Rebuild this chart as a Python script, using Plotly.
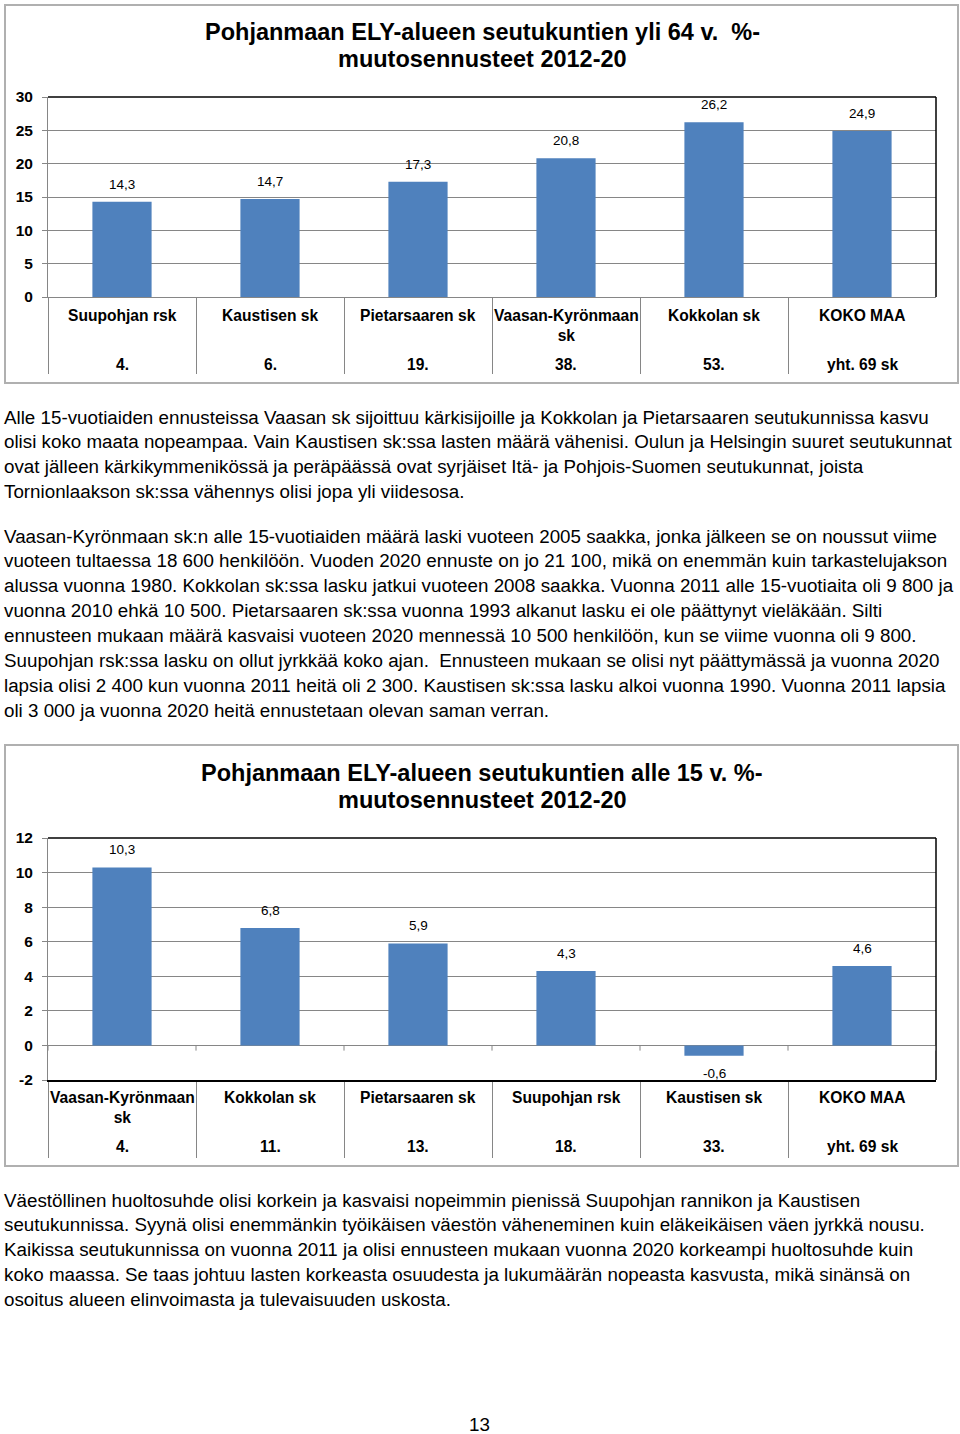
import plotly.graph_objects as go

W, H = 960, 1434


def px(x):
    return x / W


def py(y):
    return 1 - y / H


# ---------------- data ----------------
title1 = ["Pohjanmaan ELY-alueen seutukuntien yli 64 v.  %-", "muutosennusteet 2012-20"]
cats1 = ["Suupohjan rsk", "Kaustisen sk", "Pietarsaaren sk", "Vaasan-Kyrönmaan sk", "Kokkolan sk", "KOKO MAA"]
labels1 = ["Suupohjan rsk", "Kaustisen sk", "Pietarsaaren sk", "Vaasan-Kyrönmaan<br>sk", "Kokkolan sk", "KOKO MAA"]
ranks1 = ["4.", "6.", "19.", "38.", "53.", "yht. 69 sk"]
vals1 = [14.3, 14.7, 17.3, 20.8, 26.2, 24.9]
yticks1 = [0, 5, 10, 15, 20, 25, 30]

title2 = ["Pohjanmaan ELY-alueen seutukuntien alle 15 v. %-", "muutosennusteet 2012-20"]
cats2 = ["Vaasan-Kyrönmaan sk", "Kokkolan sk", "Pietarsaaren sk", "Suupohjan rsk", "Kaustisen sk", "KOKO MAA"]
labels2 = ["Vaasan-Kyrönmaan<br>sk", "Kokkolan sk", "Pietarsaaren sk", "Suupohjan rsk", "Kaustisen sk", "KOKO MAA"]
ranks2 = ["4.", "11.", "13.", "18.", "33.", "yht. 69 sk"]
vals2 = [10.3, 6.8, 5.9, 4.3, -0.6, 4.6]
yticks2 = [-2, 0, 2, 4, 6, 8, 10, 12]

para1 = [
    "Alle 15-vuotiaiden ennusteissa Vaasan sk sijoittuu kärkisijoille ja Kokkolan ja Pietarsaaren seutukunnissa kasvu",
    "olisi koko maata nopeampaa. Vain Kaustisen sk:ssa lasten määrä vähenisi. Oulun ja Helsingin suuret seutukunnat",
    "ovat jälleen kärkikymmenikössä ja peräpäässä ovat syrjäiset Itä- ja Pohjois-Suomen seutukunnat, joista",
    "Tornionlaakson sk:ssa vähennys olisi jopa yli viidesosa.",
]
para2 = [
    "Vaasan-Kyrönmaan sk:n alle 15-vuotiaiden määrä laski vuoteen 2005 saakka, jonka jälkeen se on noussut viime",
    "vuoteen tultaessa 18 600 henkilöön. Vuoden 2020 ennuste on jo 21 100, mikä on enemmän kuin tarkastelujakson",
    "alussa vuonna 1980. Kokkolan sk:ssa lasku jatkui vuoteen 2008 saakka. Vuonna 2011 alle 15-vuotiaita oli 9 800 ja",
    "vuonna 2010 ehkä 10 500. Pietarsaaren sk:ssa vuonna 1993 alkanut lasku ei ole päättynyt vieläkään. Silti",
    "ennusteen mukaan määrä kasvaisi vuoteen 2020 mennessä 10 500 henkilöön, kun se viime vuonna oli 9 800.",
    "Suupohjan rsk:ssa lasku on ollut jyrkkää koko ajan.  Ennusteen mukaan se olisi nyt päättymässä ja vuonna 2020",
    "lapsia olisi 2 400 kun vuonna 2011 heitä oli 2 300. Kaustisen sk:ssa lasku alkoi vuonna 1990. Vuonna 2011 lapsia",
    "oli 3 000 ja vuonna 2020 heitä ennustetaan olevan saman verran.",
]
para3 = [
    "Väestöllinen huoltosuhde olisi korkein ja kasvaisi nopeimmin pienissä Suupohjan rannikon ja Kaustisen",
    "seutukunnissa. Syynä olisi enemmänkin työikäisen väestön väheneminen kuin eläkeikäisen väen jyrkkä nousu.",
    "Kaikissa seutukunnissa on vuonna 2011 ja olisi ennusteen mukaan vuonna 2020 korkeampi huoltosuhde kuin",
    "koko maassa. Se taas johtuu lasten korkeasta osuudesta ja lukumäärän nopeasta kasvusta, mikä sinänsä on",
    "osoitus alueen elinvoimasta ja tulevaisuuden uskosta.",
]
page_number = "13"

# ---------------- style ----------------
FONT = "Liberation Sans, Arial, sans-serif"
BAR = "#4F81BD"
GRID = "#868686"

fig = go.Figure()
fig.add_trace(go.Bar(x=cats1, y=vals1, width=0.4, marker=dict(color=BAR, line=dict(width=0)),
                     xaxis="x", yaxis="y", hoverinfo="x+y"))
fig.add_trace(go.Bar(x=cats2, y=vals2, width=0.4, marker=dict(color=BAR, line=dict(width=0)),
                     xaxis="x2", yaxis="y2", hoverinfo="x+y"))

xdom = [px(48), px(936)]
common_x = dict(domain=xdom, type="category", range=[-0.5, 5.5], showticklabels=False,
                ticks="outside", tickson="boundaries", ticklen=76, tickcolor=GRID, tickwidth=1,
                showgrid=False, showline=True, zeroline=False, fixedrange=True, automargin=False)
common_y = dict(showgrid=True, gridcolor=GRID, gridwidth=1, showline=True, linecolor=GRID,
                ticks="outside", ticklen=5, tickcolor=GRID,
                tickfont=dict(family=FONT, size=15.5, color="black", weight="bold"),
                ticklabelstandoff=6, fixedrange=True, automargin=False)

fig.update_layout(
    width=W, height=H, autosize=False,
    margin=dict(l=0, r=0, t=0, b=0, pad=0, autoexpand=False),
    paper_bgcolor="white", plot_bgcolor="white",
    showlegend=False,
    bargap=0.6,
    xaxis=dict(**common_x, anchor="y", linecolor=GRID),
    yaxis=dict(**common_y, domain=[py(297), py(97)], range=[0, 30], tickvals=yticks1,
               ticktext=[str(v) for v in yticks1], anchor="x", zeroline=False),
    xaxis2=dict(**common_x, anchor="y2", linecolor="black", linewidth=1.5),
    yaxis2=dict(**common_y, domain=[py(1080), py(838)], range=[-2, 12], tickvals=yticks2,
                ticktext=[str(v) for v in yticks2],
                anchor="x2", zeroline=True, zerolinecolor=GRID, zerolinewidth=1),
)

annotations = []
shapes = []

# outer chart containers
for (top, bottom) in [(5, 383), (745, 1166)]:
    shapes.append(dict(type="rect", xref="paper", yref="paper",
                       x0=px(5), x1=px(958), y0=py(bottom), y1=py(top),
                       line=dict(color="#B0B0B0", width=2), layer="below"))

# plot area borders (top/right black)
for xr, yr in [("x", "y"), ("x2", "y2")]:
    shapes.append(dict(type="line", xref=xr + " domain", yref=yr + " domain",
                       x0=0, x1=1, y0=1, y1=1, line=dict(color="black", width=1.5)))
    shapes.append(dict(type="line", xref=xr + " domain", yref=yr + " domain",
                       x0=1, x1=1, y0=0, y1=1, line=dict(color="black", width=1.5)))

# small ticks on the zero line of chart 2
for i in range(len(cats2) + 1):
    shapes.append(dict(type="line", xref="x2", yref="y2", x0=i - 0.5, x1=i - 0.5,
                       y0=0, y1=-0.3, line=dict(color=GRID, width=1)))


def fmt(v):
    return f"{v:.1f}".replace(".", ",")


# titles
for lines, y0 in [(title1, 32), (title2, 773)]:
    for i, line in enumerate(lines):
        annotations.append(dict(text=f"<b>{line}</b>", x=px(482.5), y=py(y0 + i * 27), xref="paper",
                                yref="paper", showarrow=False, xanchor="center", yanchor="middle",
                                font=dict(family=FONT, size=23.5, color="black")))

# data labels and category labels
for xr, yr, cats, labels, ranks, vals, name_top, rank_y in [
    ("x", "y", cats1, labels1, ranks1, vals1, 305, 364),
    ("x2", "y2", cats2, labels2, ranks2, vals2, 1087, 1146),
]:
    for c, lab, r, v in zip(cats, labels, ranks, vals):
        annotations.append(dict(text=fmt(v), x=c, y=v, xref=xr, yref=yr, showarrow=False,
                                xanchor="center", yanchor="bottom" if v >= 0 else "top",
                                yshift=8 if v >= 0 else -8,
                                font=dict(family=FONT, size=13.5, color="black")))
        annotations.append(dict(text=f"<b>{lab}</b>", x=c, y=py(name_top), xref=xr, yref="paper",
                                showarrow=False, xanchor="center", yanchor="top",
                                font=dict(family=FONT, size=15.6, color="black")))
        annotations.append(dict(text=f"<b>{r}</b>", x=c, y=py(rank_y), xref=xr, yref="paper",
                                showarrow=False, xanchor="center", yanchor="middle",
                                font=dict(family=FONT, size=15.6, color="black")))

# body text
for lines, y0 in [(para1, 417), (para2, 536), (para3, 1200)]:
    for i, line in enumerate(lines):
        annotations.append(dict(text=line, x=px(2), y=py(y0 + i * 24.9), xref="paper", yref="paper",
                                showarrow=False, xanchor="left", yanchor="middle",
                                font=dict(family=FONT, size=18.8, color="black")))

annotations.append(dict(text=page_number, x=px(479), y=py(1424), xref="paper", yref="paper",
                        showarrow=False, xanchor="center", yanchor="middle",
                        font=dict(family=FONT, size=18.8, color="black")))

fig.update_layout(annotations=annotations, shapes=shapes)
fig.write_html(
    "out.html",
    config={"displayModeBar": False},
    post_script="document.documentElement.style.margin='0';document.body.style.margin='0';",
)
